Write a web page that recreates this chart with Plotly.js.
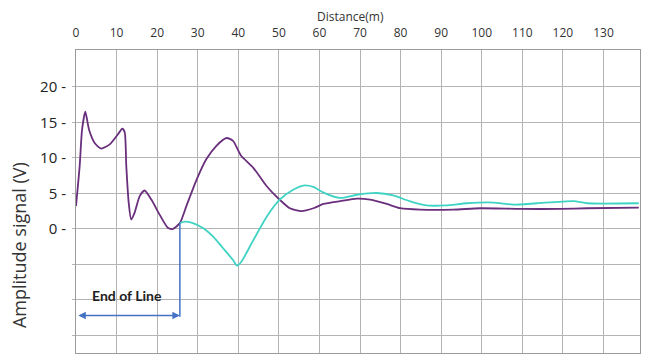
<!DOCTYPE html>
<html>
<head>
<meta charset="utf-8">
<script src="https://cdn.plot.ly/plotly-3.0.1.min.js"></script>
<style>html,body{margin:0;padding:0;background:#fff;}#chart{width:647px;height:362px;}</style>
</head>
<body>
<div id="chart"></div>
<script>
// Purple trace (reflection signal over full line)
const purpleX = [0, 0.9, 1.5, 2.3, 3.2, 4.6, 6.2, 8.3, 10.3, 11.4, 12.0, 12.4, 13.0, 13.6, 14.4, 15.7, 16.9, 18.6, 20.6, 22.7, 23.9, 25.6, 27.2, 29.7, 32.1, 34.6, 37.1, 38.7, 40.7, 43.7, 47.0, 50.2, 52.7, 55.6, 58.5, 61.0, 65.1, 69.2, 72.5, 76.6, 79.9, 84.8, 93.0, 99.6, 109.5, 119.4, 126.0, 138.7];
const purpleY = [3.2, 8.8, 14.0, 16.5, 14.0, 12.1, 11.3, 11.9, 13.3, 14.1, 13.6, 8.8, 3.6, 1.3, 2.2, 4.6, 5.4, 4.1, 2.0, 0.1, 0.0, 0.8, 3.2, 6.9, 9.8, 11.7, 12.8, 12.4, 10.3, 8.6, 6.0, 4.1, 2.9, 2.5, 2.9, 3.5, 3.9, 4.25, 4.1, 3.5, 2.9, 2.7, 2.7, 2.9, 2.8, 2.8, 2.9, 3.0];
// Cyan trace (signal beyond end of line)
const cyanX = [25.6, 26.8, 28.8, 31.3, 33.8, 36.2, 38.7, 39.7, 40.8, 43.7, 47.0, 50.2, 53.5, 56.0, 58.5, 61.0, 65.1, 69.2, 74.1, 78.2, 82.2, 86.3, 91.2, 96.3, 102.9, 107.8, 113.6, 122.7, 126.0, 138.7];
const cyanY = [0.8, 1.0, 0.8, 0.1, -1.1, -2.7, -4.4, -5.2, -4.6, -1.6, 1.7, 4.1, 5.5, 6.1, 5.9, 5.1, 4.35, 4.8, 5.05, 4.7, 3.9, 3.3, 3.3, 3.6, 3.7, 3.4, 3.6, 3.9, 3.6, 3.6];
// Axis ticks
const xTicks = [0, 10, 20, 30, 40, 50, 60, 70, 80, 90, 100, 110, 120, 130];
const yTickVals = [-15, -10, -5, 0, 5, 10, 15, 20];
const yTickText = ['', '', '', '0 -', '5 -', '10 -', '15 -', '20 -'];
// End-of-line marker
const eolDistance = 25.6;
const eolTop = 0.8;
const eolArrowY = -12.2;
const eolBottom = -12.4;

const traces = [
  {x: purpleX, y: purpleY, type: 'scatter', mode: 'lines', line: {color: '#6a2f7c', width: 1.8, shape: 'spline', smoothing: 0.6}, hoverinfo: 'skip'},
  {x: cyanX, y: cyanY, type: 'scatter', mode: 'lines', line: {color: '#3fd3c3', width: 1.8, shape: 'spline', smoothing: 0.6}, hoverinfo: 'skip'}
];

const layout = {
  width: 647, height: 362,
  margin: {l: 76, r: 7, t: 50, b: 9},
  paper_bgcolor: '#fff', plot_bgcolor: '#fff',
  showlegend: false,
  font: {family: 'Open Sans, sans-serif', color: '#333'},
  xaxis: {
    side: 'top', range: [0, 139], tickvals: xTicks, ticktext: xTicks.map(String),
    showgrid: true, gridcolor: '#b4b4b4', gridwidth: 1,
    showline: true, linecolor: '#9a9a9a', linewidth: 1, mirror: true,
    ticks: '', ticklabelstandoff: 7, zeroline: false, tickfont: {size: 12, color: '#333'}
  },
  yaxis: {
    range: [-17.5, 25.2], tickvals: yTickVals, ticktext: yTickText,
    showgrid: true, gridcolor: '#b4b4b4', gridwidth: 1,
    showline: true, linecolor: '#9a9a9a', linewidth: 1, mirror: true,
    ticks: 'outside', ticklen: 3, tickcolor: '#b4b4b4', ticklabelstandoff: 3, zeroline: false,
    tickfont: {size: 15, color: '#222'}
  },
  shapes: [
    {type: 'line', xref: 'x', yref: 'y', x0: eolDistance, x1: eolDistance, y0: eolTop, y1: eolBottom, line: {color: '#4472c4', width: 1.5}}
  ],
  annotations: [
    {xref: 'paper', yref: 'paper', x: 0.486, y: 1.112, xanchor: 'center', yanchor: 'middle', text: 'Distance(m)', showarrow: false, font: {size: 12, color: '#333'}},
    {xref: 'paper', yref: 'paper', x: -0.1, y: 0.355, xanchor: 'center', yanchor: 'middle', text: 'Amplitude signal (V)', textangle: -90, showarrow: false, font: {size: 18, color: '#333'}},
    {xref: 'x', yref: 'y', x: 12.5, y: -9.4, text: '<b>End of Line</b>', showarrow: false, font: {size: 14, color: '#222', family: 'Lato, sans-serif'}},
    {xref: 'x', yref: 'y', axref: 'x', ayref: 'y', x: eolDistance, y: eolArrowY, ax: 0.2, ay: eolArrowY, text: '', showarrow: true, arrowhead: 2, startarrowhead: 2, arrowside: 'end+start', arrowsize: 1, arrowwidth: 1.5, arrowcolor: '#4472c4'}
  ]
};

Plotly.newPlot('chart', traces, layout, {staticPlot: true, displayModeBar: false});
</script>
</body>
</html>
